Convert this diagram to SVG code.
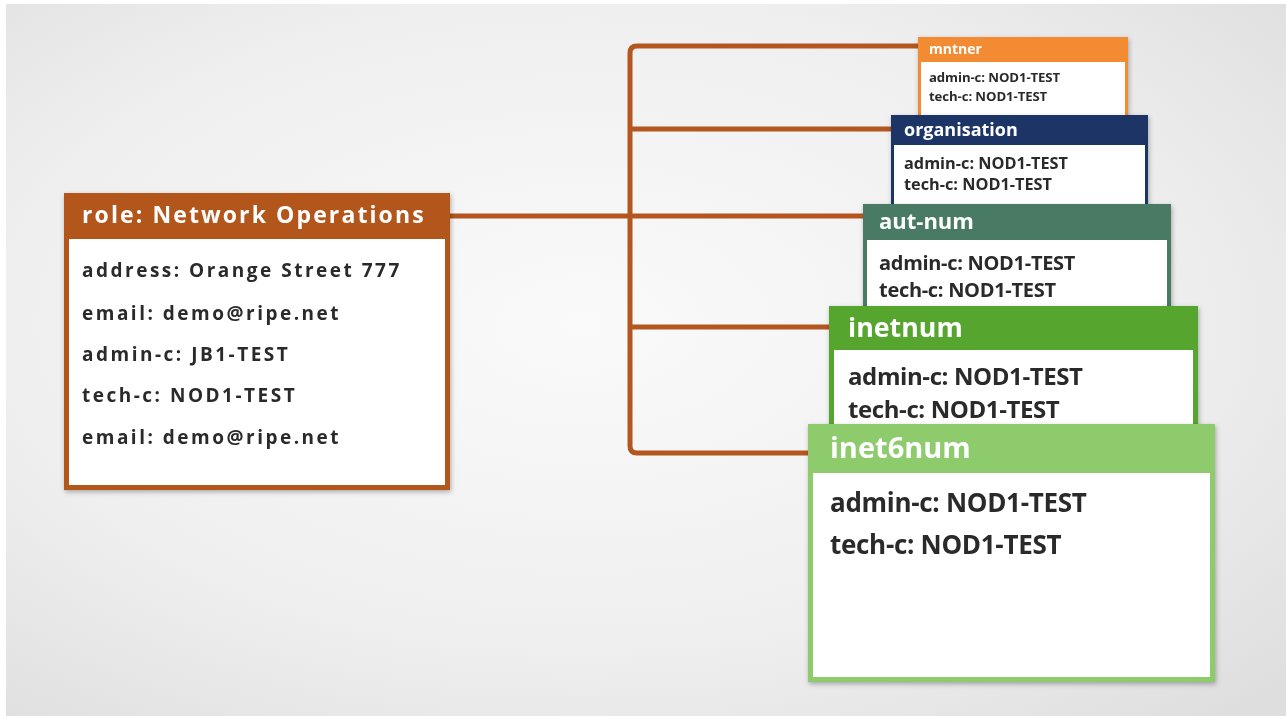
<svg xmlns="http://www.w3.org/2000/svg" width="1286" height="716" viewBox="0 0 1286 716">
<defs>
<radialGradient id="bg" cx="0.45" cy="0.45" r="0.75">
<stop offset="0" stop-color="#fafafa"/>
<stop offset="0.6" stop-color="#efefef"/>
<stop offset="1" stop-color="#dedede"/>
</radialGradient>
<filter id="sh" x="-10%" y="-10%" width="120%" height="120%">
<feDropShadow dx="1" dy="2" stdDeviation="2.5" flood-color="#000" flood-opacity="0.3"/>
</filter>
<style>
text{font-family:"Open Sans","Noto Sans","Liberation Sans",sans-serif;font-weight:700}
.h{fill:#ffffff}
.b{fill:#2b2b2b}
.conn{fill:none;stroke:#b3561f;stroke-width:5;stroke-linejoin:round}
</style>
</defs>
<rect x="0" y="0" width="1286" height="716" fill="#ffffff"/>
<rect x="6" y="4" width="1280" height="712" fill="url(#bg)"/>
<g id="connectors">
<path class="conn" d="M920,46 H637 Q630,46 630,53 V446 Q630,453 637,453 H812"/>
<path class="conn" d="M450,216 H866"/>
<path class="conn" d="M630,129 H894"/>
<path class="conn" d="M630,327 H832"/>
</g>
<g id="mntner" filter="url(#sh)">
<rect x="918" y="37" width="210" height="90" fill="#f28b33"/>
<rect x="921" y="62" width="204" height="62" fill="#ffffff"/>
<text class="h" x="929" y="54" font-size="14">mntner</text>
<text class="b" x="929" y="82" font-size="13.2" letter-spacing="-0.1">admin-c: NOD1-TEST</text>
<text class="b" x="929" y="101" font-size="13.2" letter-spacing="-0.1">tech-c: NOD1-TEST</text>
</g>
<g id="organisation" filter="url(#sh)">
<rect x="891" y="115" width="257" height="100" fill="#1c3566"/>
<rect x="894" y="145" width="251" height="67" fill="#ffffff"/>
<text class="h" x="904" y="136" font-size="18">organisation</text>
<text class="b" x="904" y="168.5" font-size="16.3" letter-spacing="0">admin-c: NOD1-TEST</text>
<text class="b" x="904" y="189.5" font-size="16.3" letter-spacing="0">tech-c: NOD1-TEST</text>
</g>
<g id="aut-num" filter="url(#sh)">
<rect x="863" y="204" width="308" height="112" fill="#4a7a63"/>
<rect x="867" y="240" width="300" height="72" fill="#ffffff"/>
<text class="h" x="879" y="229" font-size="22">aut-num</text>
<text class="b" x="879" y="270" font-size="20" letter-spacing="-0.3">admin-c: NOD1-TEST</text>
<text class="b" x="879" y="297" font-size="20" letter-spacing="-0.3">tech-c: NOD1-TEST</text>
</g>
<g id="inetnum" filter="url(#sh)">
<rect x="829" y="306" width="369" height="130" fill="#55a52e"/>
<rect x="834" y="350" width="359" height="81" fill="#ffffff"/>
<text class="h" x="848" y="337" font-size="26.8">inetnum</text>
<text class="b" x="848" y="385" font-size="24" letter-spacing="-0.4">admin-c: NOD1-TEST</text>
<text class="b" x="848" y="418" font-size="24" letter-spacing="-0.4">tech-c: NOD1-TEST</text>
</g>
<g id="inet6num" filter="url(#sh)">
<rect x="808" y="424" width="407" height="258" fill="#8dcb6d"/>
<rect x="813" y="473" width="397" height="204" fill="#ffffff"/>
<text class="h" x="830" y="458" font-size="29">inet6num</text>
<text class="b" x="830" y="512" font-size="26" letter-spacing="-0.3">admin-c: NOD1-TEST</text>
<text class="b" x="830" y="554" font-size="26" letter-spacing="-0.3">tech-c: NOD1-TEST</text>
</g>
<g id="role" filter="url(#sh)">
<rect x="64" y="193" width="386" height="297" fill="#b3561f"/>
<rect x="69" y="239" width="376" height="246" fill="#ffffff"/>
<text class="h" x="82" y="223" font-size="23" letter-spacing="2.1">role: Network Operations</text>
<text class="b" x="82" y="277" font-size="19" letter-spacing="2.5">address: Orange Street 777</text>
<text class="b" x="82" y="320" font-size="19" letter-spacing="2.5">email: demo@ripe.net</text>
<text class="b" x="82" y="361" font-size="19" letter-spacing="2.5">admin-c: JB1-TEST</text>
<text class="b" x="82" y="402" font-size="19" letter-spacing="2.5">tech-c: NOD1-TEST</text>
<text class="b" x="82" y="444" font-size="19" letter-spacing="2.5">email: demo@ripe.net</text>
</g>
</svg>
